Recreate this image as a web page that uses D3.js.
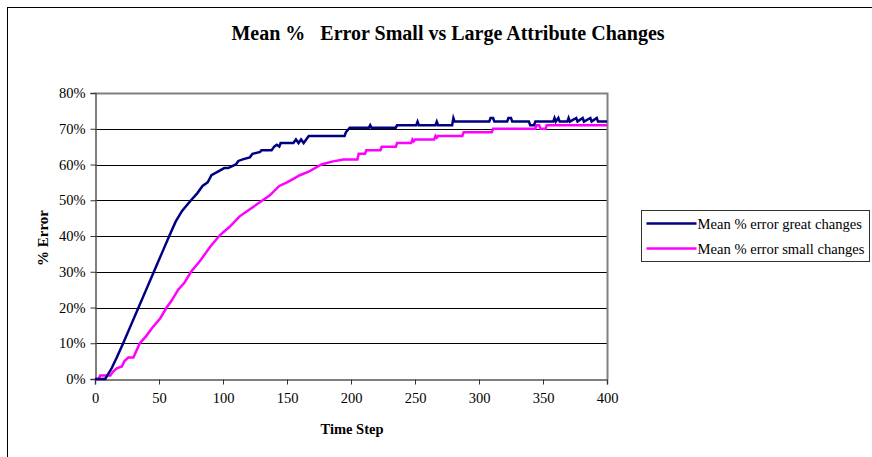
<!DOCTYPE html>
<html>
<head>
<meta charset="utf-8">
<script src="https://cdn.jsdelivr.net/npm/d3@7"></script>
<style>
body { margin: 0; background: #fff; }
text { font-family: "Liberation Serif", "Times New Roman", serif; }
</style>
</head>
<body>
<svg id="chart"></svg>
<script>
// [time step, mean % error] points
var greatChanges = [[0,0],[8,0],[13,3],[17,6],[22,10],[28,15],[34,20],[40,25],[46,30],[52,35],[58,40],[63,44],[68,47],[75,50],[80,52],[84,54],[88,55],[91,57],[96,58],[101,59],[104,59],[110,60],[112,61],[116,61.5],[121,62],[123,63],[129,63.5],[130,64],[138,64],[140,65],[142,65.5],[144,65],[145,66],[155,66],[157,67],[159,66],[161,67],[163,66],[165,67],[167,68],[195,68],[196,69],[199,70.3],[214,70.3],[215,71],[216,70.3],[235,70.3],[236,71],[251,71],[252,72],[253,71],[266,71],[267,72],[268,71],[279,71],[280,73],[281,72],[308,72],[309,73],[311,73],[312,72],[322,72],[323,73],[325,73],[326,72],[339,72],[340,71],[343,71],[344,72],[358,72],[359,73],[360,72],[362,73],[363,72],[369,72],[370,73],[371,72],[376,73],[377,72],[381,73],[382,72],[387,73],[388,72],[392,73],[393,72],[400,72]];
var smallChanges = [[0,0],[3,0],[4,1],[12,1],[14,2],[17,3],[21,3.5],[23,5],[26,6],[30,6],[35,10],[40,12],[44,14],[51,17],[56,20],[60,22],[65,25],[70,27],[75,30],[82,33],[86,35],[90,37],[97,40],[100,41],[105,42.5],[113,45.5],[121,47.5],[129,49.5],[135,51],[137,51.5],[144,54],[150,55],[155,56],[160,57],[167,58],[177,60],[185,60.8],[194,61.4],[205,61.4],[206,63],[211,63],[212,64],[223,64],[224,65],[235,65],[236,66],[247,66],[248,67],[249,66.5],[250,67],[265,67],[266,68],[267,67.5],[268,68],[287,68],[288,69],[310,69],[311,70],[344,70],[345,71],[347,71],[348,70],[352,70],[353,71],[400,71]];

var seriesNames = ["Mean % error great changes", "Mean % error small changes"];
var seriesColors = ["#000080", "#ff00ff"];
var xTicks = [0, 50, 100, 150, 200, 250, 300, 350, 400];
var yTicks = [0, 10, 20, 30, 40, 50, 60, 70, 80];
var title = "Mean %   Error Small vs Large Attribute Changes";

var width = 872, height = 457;
var plotLeft = 95, plotRight = 607, plotTop = 93, plotBottom = 379;

var svg = d3.select("#chart")
  .attr("width", width)
  .attr("height", height);

// outer chart frame, runs off the right and bottom edges
svg.append("rect")
  .attr("x", 7.5).attr("y", 7.5)
  .attr("width", 880).attr("height", 470)
  .attr("fill", "#fff")
  .attr("stroke", "#000");

var x = d3.scaleLinear().domain([0, 400]).range([plotLeft, plotRight]);
var y = d3.scaleLinear().domain([0, 80]).range([plotBottom, plotTop]);

// gridlines
svg.append("g")
  .selectAll("line")
  .data(yTicks.filter(function(d) { return d > 0 && d < 80; }))
  .enter().append("line")
  .attr("x1", plotLeft).attr("x2", plotRight)
  .attr("y1", function(d) { return Math.round(y(d)) + 0.5; })
  .attr("y2", function(d) { return Math.round(y(d)) + 0.5; })
  .attr("stroke", "#000")
  .attr("stroke-width", 1);

// plot frame (top + right)
svg.append("path")
  .attr("d", "M" + plotLeft + "," + (plotTop + 0.5) + "H" + (plotRight + 0.5) + "V" + plotBottom)
  .attr("fill", "none")
  .attr("stroke", "#808080")
  .attr("stroke-width", 2);

var yAxis = svg.append("g")
  .attr("transform", "translate(" + (plotLeft + 0.5) + ",0)")
  .call(d3.axisLeft(y).tickValues(yTicks).tickSize(5).tickPadding(5)
    .tickFormat(function(d) { return d + "%"; }));

var xAxis = svg.append("g")
  .attr("transform", "translate(0," + (plotBottom + 0.5) + ")")
  .call(d3.axisBottom(x).tickValues(xTicks).tickSize(5).tickPadding(8));

[yAxis, xAxis].forEach(function(a) {
  a.select(".domain").attr("stroke", "#555").attr("stroke-width", 1.5);
  a.selectAll(".tick line").attr("stroke", "#333");
  a.selectAll("text")
    .attr("fill", "#000")
    .style("font-family", "'Liberation Serif', 'Times New Roman', serif")
    .style("font-size", "14.5px");
});

var line = d3.line()
  .x(function(d) { return x(d[0]); })
  .y(function(d) { return y(d[1]); });

svg.append("path")
  .datum(smallChanges)
  .attr("d", line)
  .attr("fill", "none")
  .attr("stroke", seriesColors[1])
  .attr("stroke-width", 2.5);

svg.append("path")
  .datum(greatChanges)
  .attr("d", line)
  .attr("fill", "none")
  .attr("stroke", seriesColors[0])
  .attr("stroke-width", 2.5);

// titles
svg.append("text")
  .attr("x", 448).attr("y", 40)
  .attr("text-anchor", "middle")
  .style("font-size", "20px")
  .style("font-weight", "bold")
  .style("white-space", "pre")
  .text(title);

svg.append("text")
  .attr("x", 352).attr("y", 434)
  .attr("text-anchor", "middle")
  .style("font-size", "14.5px")
  .style("font-weight", "bold")
  .text("Time Step");

svg.append("text")
  .attr("transform", "translate(48,238) rotate(-90)")
  .attr("text-anchor", "middle")
  .style("font-size", "15px")
  .style("font-weight", "bold")
  .text("% Error");

// legend
var legend = svg.append("g").attr("transform", "translate(641.5,210.5)");
legend.append("rect")
  .attr("width", 228).attr("height", 51)
  .attr("fill", "#fff")
  .attr("stroke", "#333");

var item = legend.selectAll(".item")
  .data(seriesNames)
  .enter().append("g")
  .attr("class", "item")
  .attr("transform", function(d, i) { return "translate(0," + (13 + i * 25) + ")"; });

item.append("line")
  .attr("x1", 5).attr("x2", 55)
  .attr("stroke", function(d, i) { return seriesColors[i]; })
  .attr("stroke-width", 2.5);

item.append("text")
  .attr("x", 56).attr("y", 5)
  .style("font-size", "14.6px")
  .text(function(d) { return d; });
</script>
</body>
</html>
